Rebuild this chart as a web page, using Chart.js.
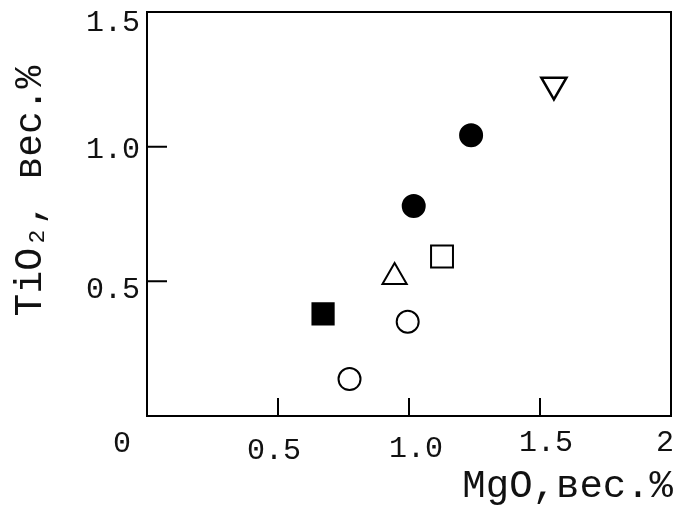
<!DOCTYPE html>
<html>
<head>
<meta charset="utf-8">
<script src="https://cdn.jsdelivr.net/npm/chart.js@4.4.1/dist/chart.umd.min.js"></script>
<style>
  body { margin: 0; background: #fff; }
  #wrap { width: 678px; height: 514px; }
</style>
</head>
<body>
<div id="wrap"><canvas id="grafico"></canvas></div>
<script>
// pontos [MgO, TiO2] por tipo de marcador
const circulosAbertos = [[0.773, 0.137], [0.995, 0.350]];
const circulosCheios = [[1.018, 0.780], [1.237, 1.042]];
const quadradoCheio = [[0.672, 0.379]];
const quadradoAberto = [[1.126, 0.592]];
const trianguloAberto = [[0.945, 0.516]];
const trianguloInvertido = [[1.553, 1.229]];

// ticks dos eixos
const ticksX = [0, 0.5, 1.0, 1.5, 2];
const rotulosX = ['0', '0.5', '1.0', '1.5', '2'];
const ticksY = [0.5, 1.0, 1.5];
const rotulosY = ['0.5', '1.0', '1.5'];

const fonte = '"Liberation Mono", "Courier New", monospace';

function pontos(lista) {
    return lista.map(p => ({ x: p[0], y: p[1] }));
}

// desenha moldura, ticks internos, rótulos e títulos
const moldura = {
    id: 'moldura',
    afterDraw(chart) {
        const ctx = chart.ctx;
        const a = chart.chartArea;
        const sx = chart.scales.x;
        const sy = chart.scales.y;
        ctx.save();
        ctx.strokeStyle = '#000';
        ctx.lineWidth = 2;
        ctx.strokeRect(a.left, a.top, a.right - a.left, a.bottom - a.top);

        // ticks para dentro
        ctx.beginPath();
        [0.5, 1.0, 1.5].forEach(v => {
            const px = sx.getPixelForValue(v);
            ctx.moveTo(px, a.bottom);
            ctx.lineTo(px, a.bottom - 18);
        });
        [0.5, 1.0].forEach(v => {
            const py = sy.getPixelForValue(v);
            ctx.moveTo(a.left, py);
            ctx.lineTo(a.left + 20, py);
        });
        ctx.stroke();

        ctx.fillStyle = '#111';
        ctx.font = '30px ' + fonte;
        ctx.textBaseline = 'middle';

        // rótulos do eixo X (um pouco desalinhados como no original)
        const dxX = [-25, -4, 7, 6, -6];
        const yX = [444, 451, 449, 443, 443];
        ctx.textAlign = 'center';
        ticksX.forEach((v, i) => {
            ctx.fillText(rotulosX[i], sx.getPixelForValue(v) + dxX[i], yX[i]);
        });

        // rótulos do eixo Y
        const dyY = [9, 3, 11];
        ctx.textAlign = 'right';
        ticksY.forEach((v, i) => {
            ctx.fillText(rotulosY[i], 140, sy.getPixelForValue(v) + dyY[i]);
        });

        // títulos
        ctx.font = '39px ' + fonte;
        ctx.textAlign = 'right';
        ctx.textBaseline = 'alphabetic';
        ctx.fillText('MgO,вес.%', 673, 497);

        ctx.font = '38px ' + fonte;
        ctx.translate(31, 191);
        ctx.rotate(-Math.PI / 2);
        ctx.textAlign = 'center';
        ctx.textBaseline = 'middle';
        ctx.fillText('TiO₂, вес.%', 0, 0);
        ctx.restore();
    }
};

const contexto = document.getElementById('grafico').getContext('2d');
new Chart(contexto, {
    type: 'scatter',
    data: {
        datasets: [
            {
                label: 'círculo aberto',
                data: pontos(circulosAbertos),
                pointStyle: 'circle',
                pointRadius: 11,
                backgroundColor: '#fff',
                borderColor: '#000',
                borderWidth: 2
            },
            {
                label: 'círculo cheio',
                data: pontos(circulosCheios),
                pointStyle: 'circle',
                pointRadius: 11,
                backgroundColor: '#000',
                borderColor: '#000',
                borderWidth: 2
            },
            {
                label: 'quadrado cheio',
                data: pontos(quadradoCheio),
                pointStyle: 'rect',
                pointRadius: 15,
                backgroundColor: '#000',
                borderColor: '#000',
                borderWidth: 2
            },
            {
                label: 'quadrado aberto',
                data: pontos(quadradoAberto),
                pointStyle: 'rect',
                pointRadius: 15.5,
                backgroundColor: '#fff',
                borderColor: '#000',
                borderWidth: 2
            },
            {
                label: 'triângulo',
                data: pontos(trianguloAberto),
                pointStyle: 'triangle',
                pointRadius: 14,
                backgroundColor: '#fff',
                borderColor: '#000',
                borderWidth: 2
            },
            {
                label: 'triângulo invertido',
                data: pontos(trianguloInvertido),
                pointStyle: 'triangle',
                rotation: 180,
                pointRotation: 180,
                pointRadius: 14.5,
                backgroundColor: '#fff',
                borderColor: '#000',
                borderWidth: 2.5
            }
        ]
    },
    options: {
        responsive: true,
        maintainAspectRatio: false,
        animation: false,
        layout: {
            autoPadding: false,
            padding: { left: 147, top: 12, right: 7, bottom: 98 }
        },
        plugins: {
            legend: { display: false },
            tooltip: { enabled: false }
        },
        scales: {
            x: {
                type: 'linear',
                display: false,
                min: 0,
                max: 2
            },
            y: {
                type: 'linear',
                display: false,
                min: 0,
                max: 1.5
            }
        }
    },
    plugins: [moldura]
});
</script>
</body>
</html>
